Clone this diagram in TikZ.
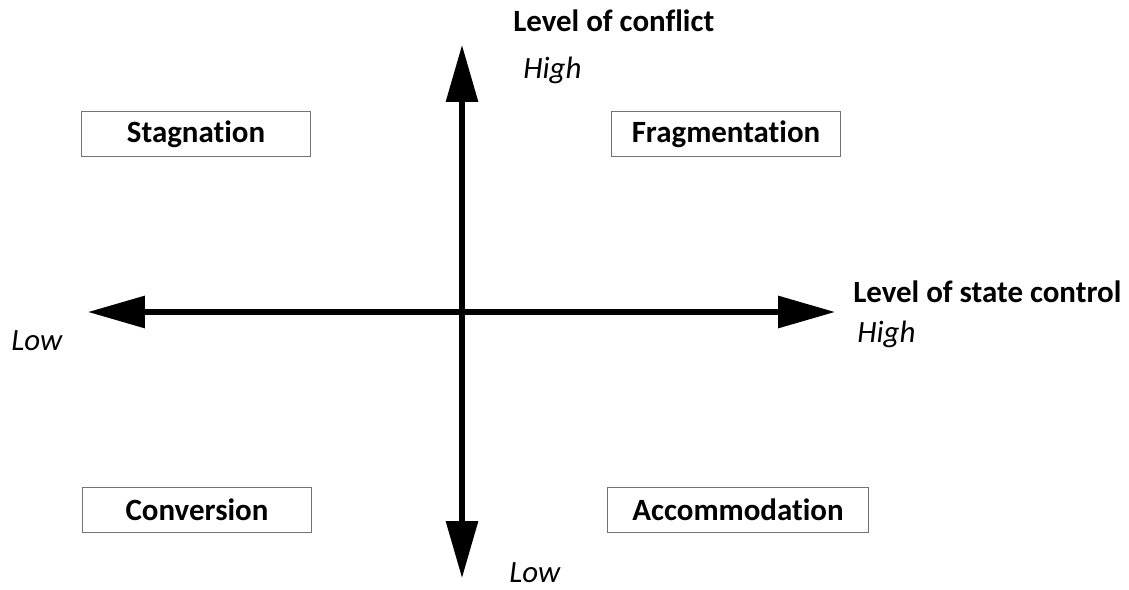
\documentclass[tikz,border=0pt]{standalone}
\usepackage{fontspec}
\setmainfont[Ligatures=NoCommon]{Carlito}
\usetikzlibrary{positioning,arrows.meta}

\begin{document}
\begin{tikzpicture}[
  x=0.025cm, y=-0.025cm,
  font=\fontsize{22}{26}\selectfont,
  axis/.style={-{Triangle[length=1.42cm, width=0.78cm]}, line width=0.13cm, black},
  quad/.style={draw=black!55, line width=0.8pt, minimum width=5.72cm, minimum height=1.12cm, font=\fontsize{22}{26}\selectfont\bfseries},
  title/.style={font=\fontsize{22}{26}\selectfont\bfseries, anchor=base west, inner sep=0pt},
  level/.style={font=\fontsize{22}{26}\selectfont\itshape, anchor=base west, inner sep=0pt},
]
\useasboundingbox (0,0) rectangle (1129,590);

% axis ends
\coordinate (origin) at (462,312);
\coordinate (top) at (462,45);
\coordinate (bottom) at (462,578);
\coordinate (left) at (88,312);
\coordinate (right) at (835,312);

% axes
\draw[axis] (origin) -- (top);
\draw[axis] (origin) -- (bottom);
\draw[axis] (origin) -- (left);
\draw[axis] (origin) -- (right);

% axis labels
\node[title] (conflict) at (513,32) {Level of conflict};
\node[level] (conflicthigh) at (523,79) {High};
\node[level] (conflictlow) at (509,582) {Low};
\node[title] (control) at (853,302) {Level of state control};
\node[level] (controlhigh) at (857,342) {High};
\node[level] (controllow) at (11,350) {Low};

% quadrants
\node[quad] (stag) at (196,134) {Stagnation};
\node[quad] (frag) at (726,134) {Fragmentation};
\node[quad] (conv) at (197,510) {Conversion};
\node[quad, minimum width=6.52cm] (accom) at (738,510) {Accommodation};

\end{tikzpicture}
\end{document}
